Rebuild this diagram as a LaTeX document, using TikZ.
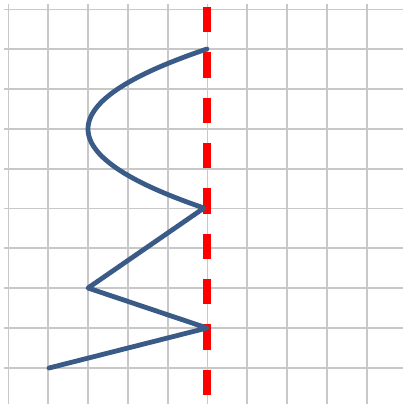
\documentclass[tikz,border=0pt]{standalone}
\definecolor{gridc}{RGB}{200,200,200}
\definecolor{curvec}{RGB}{58,90,135}
\definecolor{axisc}{RGB}{255,0,0}
\tikzset{
  gridline/.style={draw=gridc, line width=1.3pt},
  curveline/.style={draw=curvec, line width=3.6pt, line join=round, line cap=round},
  axisline/.style={draw=axisc, line width=5.5pt, dash pattern=on 19pt off 15pt}
}
\begin{document}
\begin{tikzpicture}[x=0.75pt,y=-0.75pt]
\useasboundingbox (0,0) rectangle (403,404);
\fill[white] (0,0) rectangle (403,404);
% grid
\foreach \k in {0,...,9} {
  \draw[gridline] ({8.5+39.8*\k},4) -- ({8.5+39.8*\k},404);
  \draw[gridline] (4,{9.5+39.8*\k}) -- (403,{9.5+39.8*\k});
}
% curve points
\coordinate (a) at (207,49);
\coordinate (v) at (88,129);
\coordinate (b) at (207,208);
\coordinate (c) at (88,288);
\coordinate (d) at (207,328);
\coordinate (e) at (49,368);
% axis of symmetry
\coordinate (top) at (207,7);
\coordinate (bot) at (207,400);
\draw[axisline] (top) -- (bot);
% parabola part: x = 88 + k (y-129)^2
\draw[curveline] plot[domain=49:208, samples=60, variable=\t] ({88+119/6400*(\t-129)*(\t-129)},{\t})
  -- (c) -- (d) -- (e);
\end{tikzpicture}
\end{document}
